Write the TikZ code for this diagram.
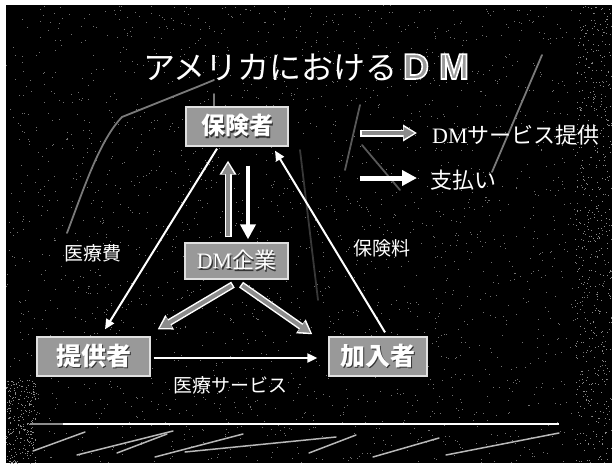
\documentclass[tikz,border=0pt]{standalone}
\usepackage{fontspec}
\newfontfamily\jp{Noto Sans CJK JP}
\newfontfamily\lsb{Liberation Sans}
\newfontfamily\lser{Liberation Serif}
\usetikzlibrary{arrows.meta,calc}
\newcommand\shtext[1]{\makebox[0pt][l]{\hspace{1.3pt}\raisebox{-1.3pt}{\color{black!80}#1}}#1}
\newcommand\outlinetext[1]{\special{pdf:literal direct 2 Tr 1 1 1 RG 1.6 w}#1\special{pdf:literal direct 0 Tr}}
\begin{document}
\begin{tikzpicture}[x=1pt,y=-1pt,
  box/.style={fill=black!40, draw=white!88!black, line width=1.3pt, inner sep=0pt, text=white},
  wline/.style={draw=white, line width=2pt, -{Triangle[length=10pt,width=9pt]}},
  wthick/.style={draw=white, line width=4.5pt, -{Triangle[length=15pt,width=15pt]}},
  gouter/.style={draw=white, line width=7pt, -{Triangle[length=14pt,width=16pt]}},
  ginner/.style={draw=black!45, line width=4pt, -{Triangle[length=11pt,width=11.5pt]}, shorten >=2.5pt, shorten <=1.5pt},
  lbl/.style={text=white, font=\jp\fontsize{19}{19}\selectfont, inner sep=0pt},
  deco/.style={draw=black!52, line width=1.8pt, line cap=round},
  slash/.style={draw=white!72!black, line width=1.5pt, line cap=round},
]
\useasboundingbox (0,0) rectangle (612,463);
\fill[white] (0,0) rectangle (612,463);
\fill[black] (6,5) rectangle (612,463);
% scanner noise
\pgfmathsetseed{7}
\foreach \i in {1,...,2200}{\fill[black!55] (6+605*rnd,5+457*rnd) rectangle ++(1,1);}
\foreach \i in {1,...,500}{\fill[black!45] (575+37*rnd,5+457*rnd) rectangle ++(1,1);}
\foreach \i in {1,...,250}{\fill[black!45] (6+30*rnd,380+83*rnd) rectangle ++(1,1);}

% faint background strokes
\draw[deco] (67,233) .. controls (85,185) and (100,140) .. (122,117) -- (197,87) -- (214,80);
\draw[deco] (214,94) -- (214,107);
\draw[deco] (542,55) -- (492,172);
\draw[deco, draw=black!65] (345,170) -- (360,105);
\draw[deco, draw=black!65] (362,145) -- (400,190);
\draw[deco, draw=black!78] (300,150) -- (318,300);

% title
\node[anchor=base west, inner sep=0pt, text=white] (t1) at (143,79) {\jp\fontsize{32}{32}\selectfont アメリカにおける};
\node[anchor=base west, inner sep=0pt, text=black!40] (t2) at ($(t1.base east)+(5,0)$) {\lsb\bfseries\fontsize{36}{36}\selectfont\outlinetext{D M}};

% boxes
\node[box, minimum width=102pt, minimum height=39pt] (hoken) at (237,126.5) {\jp\bfseries\fontsize{24}{24}\selectfont\shtext{保険者}};
\node[box, minimum width=103pt, minimum height=36pt] (dm) at (236.5,261) {\fontsize{22}{22}\selectfont\shtext{{\lser DM}{\jp 企業}}};
\node[box, minimum width=113pt, minimum height=39pt] (teikyo) at (93.5,356.5) {\jp\bfseries\fontsize{25}{25}\selectfont\shtext{提供者}};
\node[box, minimum width=98pt, minimum height=39pt] (kanyu) at (378,356.5) {\jp\bfseries\fontsize{25}{25}\selectfont\shtext{加入者}};

% connectors
\draw[wline] ($(hoken.south)+(-20,2)$) -- ($(teikyo.north)+(11.5,-7)$);
\draw[wline] ($(kanyu.north)+(7,-4)$) -- ($(hoken.south)+(38,4)$);
\draw[wline] ($(teikyo.east)+(3,1.5)$) -- ($(kanyu.west)+(-11,1.5)$);
\draw[gouter] ($(dm.north)+(-8.5,-5)$) -- ($(hoken.south)+(-9,14)$);
\draw[ginner] ($(dm.north)+(-8.5,-5)$) -- ($(hoken.south)+(-9,14)$);
\draw[wthick] ($(hoken.south)+(11,19)$) -- ($(dm.north)+(11.5,-3)$);
\draw[gouter] ($(dm.south)+(-3.5,5)$) -- ($(teikyo.north east)+(7,-7)$);
\draw[ginner] ($(dm.south)+(-3.5,5)$) -- ($(teikyo.north east)+(7,-7)$);
\draw[gouter] ($(dm.south)+(4.5,5)$) -- ($(kanyu.north west)+(-16,-2)$);
\draw[ginner] ($(dm.south)+(4.5,5)$) -- ($(kanyu.north west)+(-16,-2)$);

% labels
\node[lbl] (l1) at (93,253) {医療費};
\node[lbl] (l2) at (382,248) {保険料};
\node[lbl] (l3) at (230,385) {医療サービス};

% legend
\coordinate (g1s) at (360,133); \coordinate (g1e) at (417,133);
\coordinate (w1s) at (360,178); \coordinate (w1e) at (417,178);
\draw[gouter] (g1s) -- (g1e);
\draw[ginner] (g1s) -- (g1e);
\draw[wthick, line width=5pt] (w1s) -- (w1e);
\node[anchor=west, inner sep=0pt, text=white] (lg1) at (432,135) {\fontsize{22}{22}\selectfont{\lser DM}{\jp サービス提供}};
\node[anchor=west, inner sep=0pt, text=white] (lg2) at (430,180) {\jp\fontsize{22}{22}\selectfont 支払い};

% bottom rule and slashes
\coordinate (r0) at (30,424); \coordinate (r1) at (63,424); \coordinate (r2) at (559,424);
\draw[draw=black!45, line width=1.8pt] (r0) -- (r1);
\draw[draw=white, line width=2pt] (r1) -- (r2);
\draw[slash] (33,451) -- (85,432);
\draw[slash] (77,455) -- (173,431);
\draw[slash] (117,453) -- (167,434);
\draw[slash] (155,457) -- (243,434);
\draw[slash] (185,452) -- (336,437);
\draw[slash] (309,453) -- (356,435);
\draw[slash] (373,457) -- (439,438);
\draw[slash] (446,455) -- (559,433);
\end{tikzpicture}
\end{document}
